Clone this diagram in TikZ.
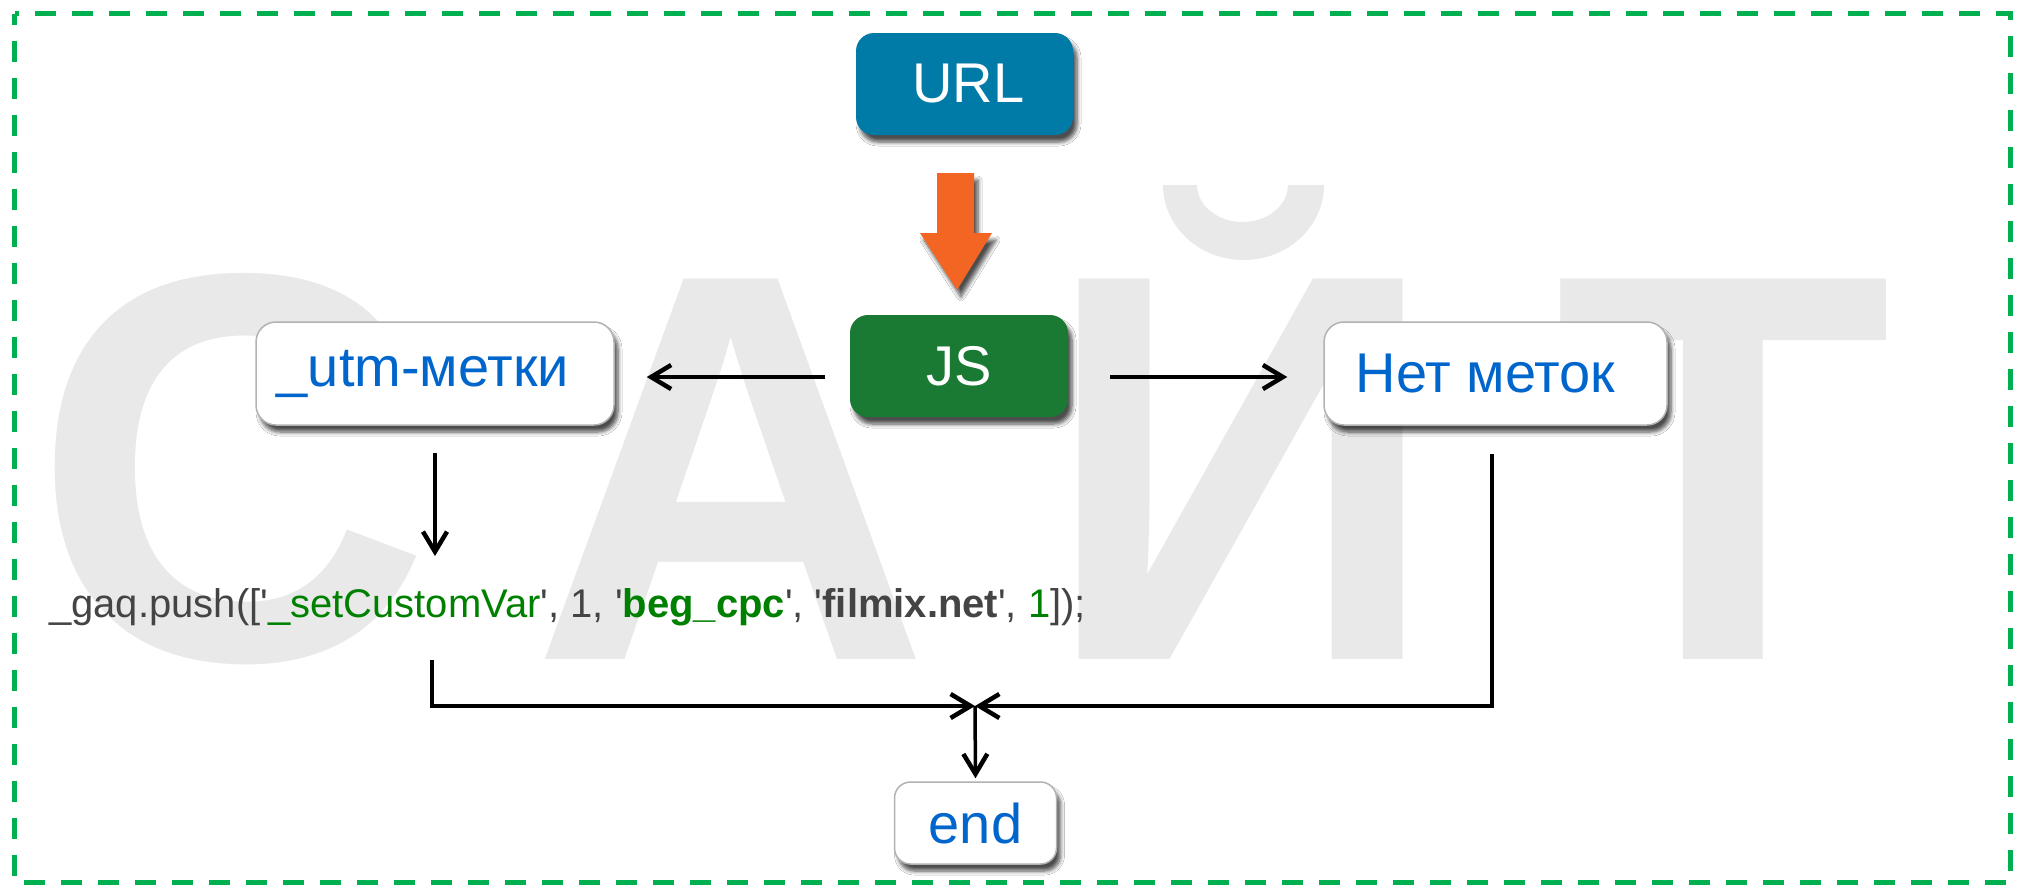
\documentclass[tikz,border=0pt]{standalone}
\usepackage{fontspec}
\setmainfont{Liberation Sans}
\usetikzlibrary{arrows.meta,shadows.blur}
\definecolor{bggrey}{RGB}{233,233,233}
\definecolor{urlblue}{RGB}{0,122,166}
\definecolor{jsgreen}{RGB}{26,122,52}
\definecolor{txtblue}{RGB}{0,102,204}
\definecolor{dashgreen}{RGB}{0,176,80}
\definecolor{codegreen}{RGB}{0,128,0}
\definecolor{codegrey}{RGB}{68,68,68}
\definecolor{orangec}{RGB}{242,101,34}
\tikzset{
  bgletter/.style={anchor=base, inner sep=0pt, text=bggrey, font=\fontsize{553}{553}\selectfont\bfseries},
  myshadow/.style={blur shadow={shadow xshift=4pt, shadow yshift=-7pt, shadow blur radius=4pt, shadow blur steps=6, shadow opacity=70}},
  whitebox/.style={draw=black!30, line width=1.5pt, fill=white, rounded corners=20pt, text=txtblue,
    font=\fontsize{56}{60}\selectfont, inner sep=0pt, myshadow},
  solidbox/.style={rounded corners=18pt, text=white, font=\fontsize{56}{60}\selectfont, inner sep=0pt, myshadow},
  conn/.style={line width=4.5pt, draw=black, -{Straight Barb[length=20pt,width=24pt,line width=4.5pt]}},
}
\begin{document}
\begin{tikzpicture}[x=1pt,y=-1pt]
\useasboundingbox (0,0) rectangle (2020,884);
\fill[white] (0,0) rectangle (2020,884);
% background word
\node[bgletter] (l1) at (232,659) {С};
\node[bgletter] (l2) at (731,659) {А};
\node[bgletter] (l3) at (1241,659) {И};
\fill[bggrey, even odd rule] (1163,185) arc[start angle=180, end angle=0, x radius=80.5, y radius=75] -- (1288,185)
  arc[start angle=0, end angle=180, x radius=45.5, y radius=37] -- cycle;
\node[bgletter] (l4) at (1723,659) {Т};
% dashed frame
\draw[dashgreen, line width=5pt, dash pattern=on 21pt off 16pt, dash phase=10pt] (14.5,13.5) rectangle (2010.5,882);
% nodes
\node[solidbox, fill=urlblue, minimum width=217pt, minimum height=102pt] (url) at (964.5,84) {\hspace*{8pt}URL};
\node[solidbox, fill=jsgreen, minimum width=218pt, minimum height=102pt] (js) at (959,366) {JS};
\node[whitebox, minimum width=358pt, minimum height=103pt] (utm) at (435,373.5) {\hspace*{-24pt}\_utm-метки};
\node[whitebox, minimum width=343pt, minimum height=103pt] (net) at (1495.5,373.5) {\hspace*{-20pt}Нет меток};
\node[whitebox, minimum width=162pt, minimum height=82pt, rounded corners=16pt] (endn) at (975.5,823) {end};
\node[anchor=base west, inner sep=0pt, font=\fontsize{40}{44}\selectfont, text=codegrey] (code) at (49,617)
  {\_gaq.push([\textquotesingle{\color{codegreen}\_setCustomVar}\textquotesingle, 1, \textquotesingle{\color{codegreen}\bfseries beg\_cpc}\textquotesingle, \textquotesingle{\bfseries filmix.net}\textquotesingle, {\color{codegreen}1}]);};
% orange arrow URL -> JS
\fill[orangec, myshadow] (937,173) -- (974,173) -- (974,233) -- (992,233) -- (957,290) -- (920,233) -- (937,233) -- cycle;
% connectors
\coordinate (j) at (975,706);
\coordinate (lb) at (432,660);
\draw[conn] ([xshift=-25pt,yshift=-11pt]js.west) -- ([xshift=32pt,yshift=-3.5pt]utm.east);
\draw[conn] ([xshift=42pt,yshift=-11pt]js.east) -- ([xshift=-36pt,yshift=-3.5pt]net.west);
\draw[conn, line width=3.5pt] ([yshift=-27pt]utm.south) -- (utm.south |- 0,556);
\draw[conn] (lb) -- (lb |- j) -- (j);
\draw[conn] ([xshift=-3.5pt,yshift=-28pt]net.south) -- ([xshift=-3.5pt]net.south |- j) -- (j);
\draw[conn, line width=3.5pt] (j) -- ([yshift=3pt]endn.north);
\end{tikzpicture}
\end{document}
